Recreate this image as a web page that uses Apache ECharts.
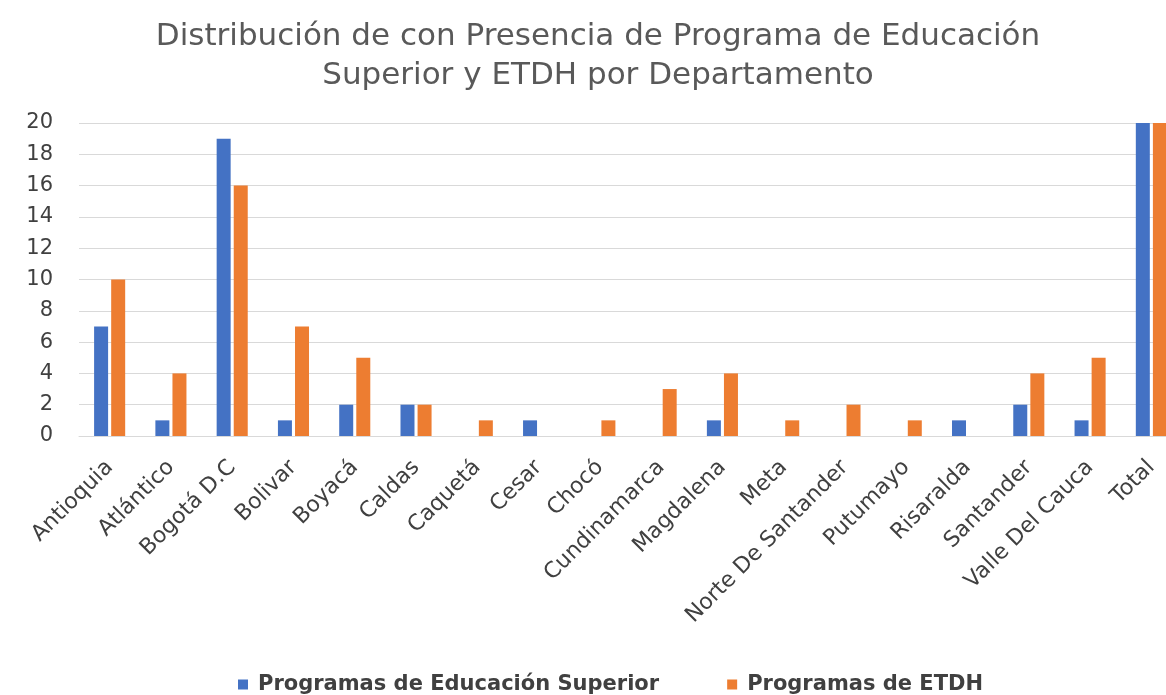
<!DOCTYPE html>
<html>
<head>
<meta charset="utf-8">
<script src="https://cdn.jsdelivr.net/npm/echarts@6/dist/echarts.min.js"></script>
<style>
  html, body { margin: 0; padding: 0; background: #fff; }
  #chart { width: 1166px; height: 695px; }
</style>
</head>
<body>
<div id="chart"></div>
<script>
const departamentos = ['Antioquia', 'Atlántico', 'Bogotá D.C', 'Bolivar', 'Boyacá', 'Caldas', 'Caquetá', 'Cesar', 'Chocó',
  'Cundinamarca', 'Magdalena', 'Meta', 'Norte De Santander', 'Putumayo', 'Risaralda', 'Santander', 'Valle Del Cauca', 'Total'];
// el total sale del borde superior del gráfico
const educacionSuperior = [7, 1, 19, 1, 2, 2, 0, 1, 0, 0, 1, 0, 0, 0, 1, 2, 1, 38];
const etdh = [10, 4, 16, 7, 5, 2, 1, 0, 1, 3, 4, 1, 2, 1, 0, 4, 5, 66];
const yTicks = {min: 0, max: 20, interval: 2};

const chart = echarts.init(document.getElementById('chart'));
const fontFam = '"DejaVu Sans", sans-serif';

chart.setOption({
  animation: false,
  textStyle: {fontFamily: fontFam},
  title: {
    text: 'Distribución de con Presencia de Programa de Educación\nSuperior y ETDH por Departamento',
    left: 593,
    top: 12,
    textAlign: 'center',
    textStyle: {fontSize: 31, fontWeight: 'normal', color: '#595959', lineHeight: 39, fontFamily: fontFam}
  },
  legend: {
    left: 238,
    top: 674,
    padding: 0,
    icon: 'rect',
    itemWidth: 10,
    itemHeight: 10,
    itemGap: 68,
    textStyle: {fontSize: 21, color: '#404040', fontWeight: 'bold', fontFamily: fontFam, padding: [0, 0, 0, 5]}
  },
  grid: {
    left: 79,
    right: -16,
    top: 123,
    bottom: 259,
    containLabel: false,
    outerBoundsMode: 'none'
  },
  xAxis: {
    type: 'category',
    data: departamentos,
    axisLine: {lineStyle: {color: '#d9d9d9'}},
    axisTick: {show: false},
    axisLabel: {rotate: 45, interval: 0, fontSize: 22, color: '#404040', margin: 28, fontFamily: fontFam}
  },
  yAxis: {
    type: 'value',
    min: yTicks.min,
    max: yTicks.max,
    interval: yTicks.interval,
    axisLine: {show: false},
    axisTick: {show: false},
    splitLine: {lineStyle: {color: '#d9d9d9', width: 1}},
    axisLabel: {fontSize: 21, color: '#404040', margin: 26, fontFamily: fontFam}
  },
  series: [
    {
      name: 'Programas de Educación Superior',
      type: 'bar',
      data: educacionSuperior,
      barWidth: 14,
      barGap: '22%',
      clip: true,
      itemStyle: {color: '#4472C4'}
    },
    {
      name: 'Programas de ETDH',
      type: 'bar',
      data: etdh,
      barWidth: 14,
      barGap: '22%',
      clip: true,
      itemStyle: {color: '#ED7D31'}
    }
  ]
});
</script>
</body>
</html>
